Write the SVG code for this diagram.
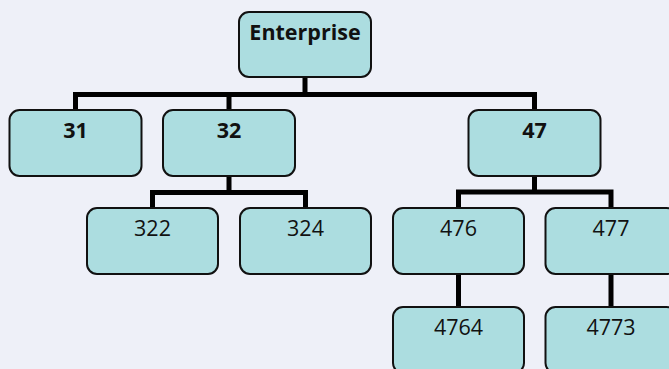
<svg xmlns="http://www.w3.org/2000/svg" width="669" height="369" viewBox="0 0 669 369">
<style>
.box{fill:#acdde0;stroke:#111;stroke-width:2}
.t{font-family:"Open Sans","Noto Sans",sans-serif;font-size:21.5px;fill:#111;text-anchor:middle}
.b{font-weight:bold}
.c{fill:none;stroke:#000;stroke-width:5;stroke-linecap:square;stroke-linejoin:miter}
</style>
<rect width="669" height="369" fill="#eef0f8"/>
<g id="connectors">
<path class="c" d="M305,77V94.5M75.5,110V94.5H534.5V110M229,94.5V110"/>
<path class="c" d="M229,176V192.5M152.5,208V192.5H305.5V208"/>
<path class="c" d="M534.5,176V192M458.5,208V192H611V208"/>
<path class="c" d="M458.5,274V307M611,274V307"/>
</g>
<g id="n-enterprise"><rect class="box" x="239" y="12" width="132" height="65" rx="10"/><text class="t b" x="305" y="40">Enterprise</text></g>
<g id="n-31"><rect class="box" x="9.5" y="110" width="132" height="66" rx="10"/><text class="t b" x="75.5" y="138">31</text></g>
<g id="n-32"><rect class="box" x="163" y="110" width="132" height="66" rx="10"/><text class="t b" x="229" y="138">32</text></g>
<g id="n-47"><rect class="box" x="468.5" y="110" width="132" height="66" rx="10"/><text class="t b" x="534.5" y="138">47</text></g>
<g id="n-322"><rect class="box" x="87" y="208" width="131" height="66" rx="10"/><text class="t" x="152.5" y="236">322</text></g>
<g id="n-324"><rect class="box" x="240" y="208" width="131" height="66" rx="10"/><text class="t" x="305.5" y="236">324</text></g>
<g id="n-476"><rect class="box" x="393" y="208" width="131" height="66" rx="10"/><text class="t" x="458.5" y="236">476</text></g>
<g id="n-477"><rect class="box" x="545.5" y="208" width="131" height="66" rx="10"/><text class="t" x="611" y="236">477</text></g>
<g id="n-4764"><rect class="box" x="393" y="307" width="131" height="66" rx="10"/><text class="t" x="458.5" y="335">4764</text></g>
<g id="n-4773"><rect class="box" x="545.5" y="307" width="131" height="66" rx="10"/><text class="t" x="611" y="335">4773</text></g>
</svg>
